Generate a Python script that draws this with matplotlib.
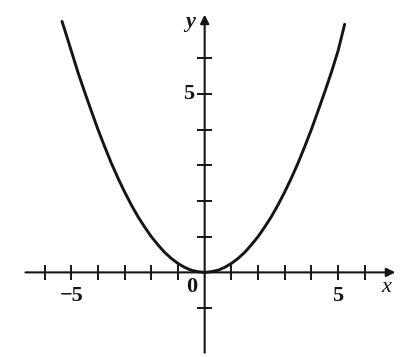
import numpy as np
import matplotlib
matplotlib.use("Agg")
import matplotlib.pyplot as plt

# Points on the curve (x, y)
curve_x = [-5.35, -5.25, -5.0, -4.75, -4.5, -4.25, -4.0, -3.75, -3.5, -3.25,
           -3.0, -2.75, -2.5, -2.25, -2.0, -1.75, -1.5, -1.25, -1.0, -0.75,
           -0.5, -0.25, 0.0, 0.25, 0.5, 0.75, 1.0, 1.25, 1.5, 1.75,
           2.0, 2.25, 2.5, 2.75, 3.0, 3.25, 3.5, 3.75, 4.0, 4.25,
           4.5, 4.75, 5.0, 5.25]
curve_y = [7.03, 6.80, 6.20, 5.60, 5.05, 4.52, 4.00, 3.52, 3.06, 2.64,
           2.25, 1.89, 1.56, 1.27, 1.00, 0.77, 0.56, 0.39, 0.25, 0.14,
           0.06, 0.02, 0.00, 0.02, 0.06, 0.14, 0.25, 0.39, 0.56, 0.77,
           1.00, 1.27, 1.56, 1.89, 2.25, 2.64, 3.06, 3.52, 4.00, 4.52,
           5.05, 5.60, 6.20, 6.95]

x_ticks = [-6, -5, -4, -3, -2, -1, 1, 2, 3, 4, 5, 6]
y_ticks = [-1, 1, 2, 3, 4, 5, 6]
x_labels = {-5: "\u22125", 5: "5"}
y_labels = {5: "5"}

ink = "#151515"
font = dict(family="Liberation Serif", fontsize=16, fontweight="bold", color=ink)

fig = plt.figure(figsize=(4.06, 3.57), dpi=100)
ax = fig.add_axes([0, 0, 1, 1])
ax.set_xlim(-7.675, 7.55)
ax.set_ylim(-2.37, 7.63)
ax.axis("off")

# axes with arrowheads
ax.annotate("", xy=(7.15, 0), xytext=(-6.72, 0),
            arrowprops=dict(arrowstyle="-|>", lw=1.5, color=ink,
                            mutation_scale=13, shrinkA=0, shrinkB=0))
ax.annotate("", xy=(0, 7.22), xytext=(0, -2.25),
            arrowprops=dict(arrowstyle="-|>", lw=1.5, color=ink,
                            mutation_scale=13, shrinkA=0, shrinkB=0))

# tick marks crossing the axes
tx = 0.21  # half-length of x ticks (in y units)
ty = 0.27  # half-length of y ticks (in x units)
for t in x_ticks:
    ax.plot([t, t], [-tx, tx], color=ink, lw=1.4, solid_capstyle="butt")
for t in y_ticks:
    ax.plot([-ty, ty], [t, t], color=ink, lw=1.4, solid_capstyle="butt")

# the curve
ax.plot(curve_x, curve_y, color=ink, lw=2.1, solid_joinstyle="round",
        solid_capstyle="round")

# labels
for t, s in x_labels.items():
    ax.text(t, -0.65, s, ha="center", va="center", **font)
for t, s in y_labels.items():
    ax.text(-0.6, t, s, ha="center", va="center", **font)
ax.text(-0.47, -0.42, "0", ha="center", va="center", **font)
ax.text(6.8, -0.42, "x", ha="center", va="center", style="italic",
        family="Liberation Serif", fontsize=16, color=ink)
ax.text(-0.55, 7.02, "y", ha="center", va="center", style="italic",
        family="Liberation Serif", fontsize=16, fontweight="bold", color=ink)

fig.savefig("out.png", dpi=100, facecolor="white")
